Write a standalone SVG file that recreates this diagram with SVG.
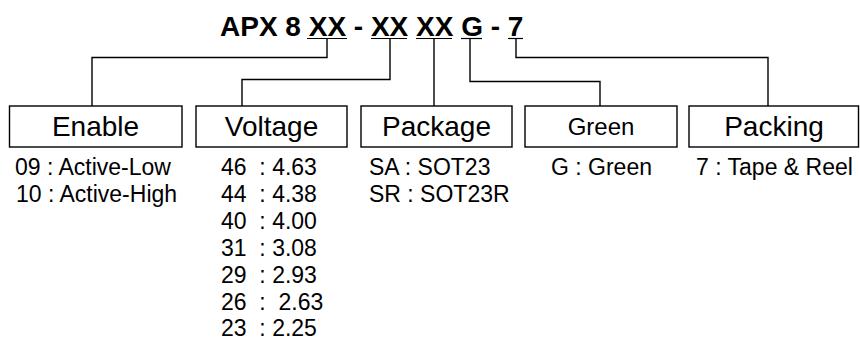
<svg xmlns="http://www.w3.org/2000/svg" width="860" height="342" viewBox="0 0 860 342">
<style>
text{font-family:"Liberation Sans",Arial,sans-serif;fill:#000}
.title{font-size:28px;font-weight:bold}
.lbl{font-size:28px;text-anchor:middle}
.lbl2{font-size:24px;text-anchor:middle}
.sub{font-size:23px;white-space:pre}
.box{fill:#fff;stroke:#000;stroke-width:1.4}
.con{fill:none;stroke:#000;stroke-width:1.4}
.ul{stroke:#000;stroke-width:1.2}
</style>
<rect width="860" height="342" fill="#fff"/>
<g id="title">
<text class="title" x="220" y="36">APX 8 XX - XX XX G - 7</text>
<line class="ul" x1="307" y1="38.5" x2="347" y2="38.5"/>
<line class="ul" x1="371" y1="38.5" x2="407" y2="38.5"/>
<line class="ul" x1="416" y1="38.5" x2="452" y2="38.5"/>
<line class="ul" x1="461" y1="38.5" x2="482" y2="38.5"/>
<line class="ul" x1="508" y1="38.5" x2="523" y2="38.5"/>
</g>
<g id="connectors">
<polyline class="con" points="327,38.5 327,57.5 92,57.5 92,106"/>
<polyline class="con" points="390,38.5 390,79.5 242,79.5 242,106"/>
<polyline class="con" points="434,38.5 434,106"/>
<polyline class="con" points="470,38.5 470,81.5 600,81.5 600,106"/>
<polyline class="con" points="516,38.5 516,57.5 768,57.5 768,106"/>
</g>
<g id="enable">
<rect class="box" x="9.5" y="106" width="172.5" height="41"/>
<text class="lbl" x="95.5" y="136">Enable</text>
<text class="sub" x="15" y="175">09 : Active-Low</text>
<text class="sub" x="16" y="202">10 : Active-High</text>
</g>
<g id="voltage">
<rect class="box" x="196" y="106" width="151" height="41"/>
<text class="lbl" x="271.5" y="136">Voltage</text>
<text class="sub" x="221" y="175" xml:space="preserve">46  : 4.63</text>
<text class="sub" x="221" y="202" xml:space="preserve">44  : 4.38</text>
<text class="sub" x="221" y="229" xml:space="preserve">40  : 4.00</text>
<text class="sub" x="221" y="256" xml:space="preserve">31  : 3.08</text>
<text class="sub" x="221" y="283" xml:space="preserve">29  : 2.93</text>
<text class="sub" x="221" y="310" xml:space="preserve">26  :  2.63</text>
<text class="sub" x="221" y="336" xml:space="preserve">23  : 2.25</text>
</g>
<g id="package">
<rect class="box" x="361" y="106" width="151" height="41"/>
<text class="lbl" x="436.5" y="136">Package</text>
<text class="sub" x="369" y="175">SA : SOT23</text>
<text class="sub" x="369" y="202">SR : SOT23R</text>
</g>
<g id="green">
<rect class="box" x="525" y="106" width="152" height="41"/>
<text class="lbl2" x="601" y="135">Green</text>
<text class="sub" x="551" y="175">G : Green</text>
</g>
<g id="packing">
<rect class="box" x="689" y="106" width="169.5" height="41"/>
<text class="lbl" x="774" y="136">Packing</text>
<text class="sub" x="696" y="175">7 : Tape &amp; Reel</text>
</g>
</svg>
